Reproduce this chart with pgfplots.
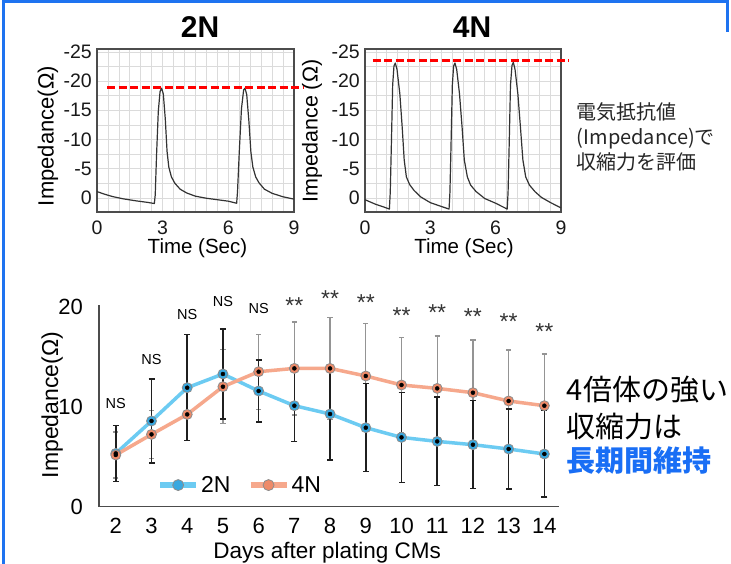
\documentclass[border=0pt]{standalone}
\usepackage{fontspec}
\setmainfont{Liberation Sans}
\newfontfamily\cjk{Noto Sans CJK JP}
\usepackage{pgfplots}
\pgfplotsset{compat=1.18}
\usepackage{pgfplotstable}
\definecolor{frameblue}{RGB}{30,115,240}
\definecolor{emblue}{RGB}{25,110,245}
\definecolor{bl}{HTML}{6CCBF2}
\definecolor{blm}{HTML}{38A8E0}
\definecolor{orl}{HTML}{F6A88C}
\definecolor{orm}{HTML}{EE8A68}
\newcommand\fs[1]{\fontsize{#1}{#1}\selectfont}

\pgfplotstableread{
t v
0 1.1
0.3 0.7
0.7 0.25
1.2 -0.15
1.8 -0.5
2.3 -0.75
2.62 -0.95
2.66 0.5
2.72 7.3
2.8 14.8
2.88 18.2
2.95 18.8
3.03 17.8
3.12 13.5
3.2 8.0
3.28 5.3
3.4 3.6
3.56 2.5
3.8 1.5
4.1 0.85
4.5 0.3
5.0 -0.05
5.5 -0.3
6.0 -0.55
6.38 -0.9
6.42 1.1
6.5 7.9
6.6 15.3
6.7 18.5
6.76 18.8
6.84 17.7
6.94 13.1
7.03 7.9
7.12 5.3
7.25 3.6
7.4 2.6
7.65 1.5
8.0 0.8
8.5 0.2
9.0 -0.2
}\twoN

\pgfplotstableread{
t v
0 -0.3
0.5 -1.1
0.9 -1.6
1.12 -1.9
1.16 1.0
1.21 9.0
1.27 19.3
1.33 22.6
1.39 23.1
1.47 22.0
1.6 17.8
1.71 12.0
1.8 6.5
1.9 3.6
2.05 2.3
2.25 1.3
2.55 0.2
3.0 -0.8
3.5 -1.45
3.86 -1.9
3.9 1.0
3.95 9.0
4.01 19.3
4.07 22.6
4.13 23.1
4.21 22.0
4.34 17.8
4.46 12.0
4.56 6.5
4.7 3.6
4.85 2.2
5.1 1.1
5.5 -0.1
6.0 -0.9
6.53 -1.9
6.57 1.0
6.62 9.0
6.68 19.3
6.75 22.7
6.81 23.2
6.89 22.0
7.02 17.8
7.14 12.0
7.25 6.5
7.38 3.6
7.55 2.2
7.8 1.1
8.1 0.1
8.5 -0.75
9.0 -1.7
}\fourN

\pgfplotstableread{
d b eb o eo
2 5.33 2.8 5.17 2.3
3 8.57 4.2 7.23 2.4
4 11.9 5.3 9.23 2.6
5 13.27 4.5 12.0 3.7
6 11.57 3.1 13.5 3.75
7 10.1 3.6 13.83 4.65
8 9.27 4.6 13.83 5.1
9 7.9 4.4 13.07 5.25
10 6.93 4.5 12.17 4.77
11 6.53 4.42 11.83 5.24
12 6.2 4.4 11.4 5.27
13 5.77 4.0 10.57 5.1
14 5.27 4.33 10.1 5.17
}\imp

\pgfplotsset{
  trace/.style={
    scale only axis, anchor=south west, width=197pt, height=163pt,
    xmin=0, xmax=9, ymin=-2.4, ymax=25.5,
    xtick={0,3,6,9}, ytick={0,5,10,15,20,25},
    minor xtick={0,0.5,...,9}, minor ytick={0,2.5,...,25},
    grid=both, grid style={color=black!14, line width=0.7pt},
    major grid style={color=black!14, line width=0.7pt},
    major tick length=0pt, minor tick length=0pt,
    axis line style={color=black!70, line width=1.4pt},
    tick label style={font=\fs{19.5}, color=black!90},
    /pgf/number format/assume math mode=true,
    xticklabel style={inner sep=0pt, yshift=-9pt},
    yticklabel style={inner sep=0pt, xshift=-5pt},
    xlabel={Time (Sec)},
    clip=false,
  },
  tr/.style={color=black!80, line width=1.2pt, line join=round, mark=none},
  rd/.style={color=red, line width=2.8pt, dash pattern=on 8pt off 3.5pt, mark=none},
}

\begin{document}
\begin{tikzpicture}[x=1pt,y=1pt]
\path[use as bounding box] (0,0) rectangle (731,564);
\fill[white] (0,0) rectangle (731,564);

% ---------- 2N ----------
\begin{axis}[trace, at={(97pt,352pt)},
  yticklabels={0,-5,-10,-15,-20,-25},
  xlabel style={font=\fs{20.5}, at={(axis description cs:0.51,-0.22)}, anchor=center},
  ylabel={Impedance(Ω)},
  ylabel style={font=\fs{22}, at={(axis description cs:-0.249,0.466)}, anchor=center},
  title={2N}, title style={font=\fs{30}\bfseries, at={(axis description cs:0.523,1.098)}, anchor=center},
]
\addplot[tr] table[x=t,y=v]{\twoN};
\addplot[rd] coordinates {(0.46,18.9) (9.41,18.9)};
\end{axis}

% ---------- 4N ----------
\begin{axis}[trace, at={(365pt,352pt)}, width=196pt,
  yticklabels={0,-5,-10,-15,-20,-25},
  xlabel style={font=\fs{20.5}, at={(axis description cs:0.505,-0.22)}, anchor=center},
  ylabel={Impedance (Ω)},
  ylabel style={font=\fs{21.5}, at={(axis description cs:-0.27,0.497)}, anchor=center},
  title={4N}, title style={font=\fs{30}\bfseries, at={(axis description cs:0.546,1.098)}, anchor=center},
]
\addplot[tr] table[x=t,y=v]{\fourN};
\addplot[rd] coordinates {(0.35,23.5) (9.36,23.5)};
\end{axis}

% ---------- time course ----------
\begin{axis}[at={(99pt,57.3pt)}, anchor=south west, scale only axis,
  width=460pt, height=202pt,
  xmin=1.53, xmax=14.41, ymin=0, ymax=20.2,
  axis x line=bottom, axis y line=left,
  axis line style={-, color=black!70, line width=1.4pt},
  xtick={2,...,14}, ytick={0,10,20},
  major tick length=0pt, minor tick length=0pt,
  tick label style={font=\fs{22}},
  /pgf/number format/assume math mode=true,
  xticklabel style={inner sep=0pt, yshift=-11pt},
  yticklabel style={inner sep=0pt, xshift=-16pt},
  xlabel={Days after plating CMs},
  xlabel style={font=\fs{22.5}, at={(axis description cs:0.496,-0.229)}, anchor=center},
  ylabel={Impedance(Ω)},
  ylabel style={font=\fs{23}, at={(axis description cs:-0.102,0.503)}, anchor=center},
  clip=false,
  legend image code/.code={\draw[mark repeat=2, mark phase=2, #1] plot coordinates {(0pt,0pt) (18pt,0pt) (36pt,0pt)};},
  legend style={draw=none, fill=none, inner sep=0pt, legend columns=2,
    at={(rel axis cs:0.126,0.107)}, anchor=west, font=\fs{23},
    /tikz/every even column/.append style={column sep=15pt}},
]
\addlegendimage{color=bl, line width=6pt, mark=*, mark size=5.5pt, mark options={fill=blm, draw=black!45, line width=0.8pt}}
\addlegendentry{2N}
\addlegendimage{color=orl, line width=6pt, mark=*, mark size=5.5pt, mark options={fill=orm, draw=black!45, line width=0.8pt}}
\addlegendentry{4N}

\addplot[forget plot, color=bl, line width=3.5pt, mark=*, mark size=5pt, mark options={fill=blm, draw=black!45, line width=0.8pt}] table[x=d,y=b]{\imp};
\addplot[forget plot, color=orl, line width=3.5pt, mark=*, mark size=5pt, mark options={fill=orm, draw=black!45, line width=0.8pt}] table[x=d,y=o]{\imp};

\addplot[forget plot, only marks, mark=none, error bars/.cd, y dir=both, y explicit, error mark=|,
  error bar style={line width=1.4pt, color=black!42},
  error mark options={line width=1.3pt, mark size=2.6pt, color=black!42}]
  table[x=d, y=o, y error=eo]{\imp};
\addplot[forget plot, only marks, mark=none, error bars/.cd, y dir=both, y explicit, error mark=|,
  error bar style={line width=1.7pt, color=black!88},
  error mark options={line width=1.6pt, mark size=3pt, color=black!88}]
  table[x=d, y=b, y error=eb]{\imp};

\foreach \xx/\yy in {2/10.27, 3/14.7, 4/19.17, 5/20.5, 6/19.86}{
  \edef\tmp{\noexpand\node[font=\noexpand\fs{14.5}, inner sep=0pt, anchor=center] at (axis cs:\xx,\yy) {NS};}\tmp
}
\foreach \xx/\yy in {7/20.15, 8/20.8, 9/20.46, 10/19.13, 11/19.4, 12/19.0, 13/18.5, 14/17.5}{
  \edef\tmp{\noexpand\node[font=\noexpand\fs{23}, color=black!80, inner sep=0pt, anchor=center] at (axis cs:\xx,\yy) {**};}\tmp
}
\end{axis}

% ---------- texts ----------
\node[anchor=west, inner sep=0pt, font=\cjk\fs{20}, color=black!85] at (576.7,452.3) {電気抵抗値};
\node[anchor=west, inner sep=0pt, font=\cjk\fs{20}, color=black!85] at (576.7,425.7) {(Impedance)で};
\node[anchor=west, inner sep=0pt, font=\cjk\fs{20}, color=black!85] at (576.7,402.3) {収縮力を評価};

\node[anchor=west, inner sep=0pt, font=\cjk\fs{29}, color=black] at (566.7,174) {4倍体の強い};
\node[anchor=west, inner sep=0pt, font=\cjk\fs{29}, color=black] at (566.7,137.3) {収縮力は};
\node[anchor=west, inner sep=0pt, font=\cjk\bfseries\fs{29}, color=emblue] at (566.7,104) {長期間維持};

% ---------- frame ----------
\draw[frameblue, line width=3pt] (3.5,-5) -- (3.5,562.5) -- (727,562.5) -- (727,532);
\end{tikzpicture}
\end{document}
